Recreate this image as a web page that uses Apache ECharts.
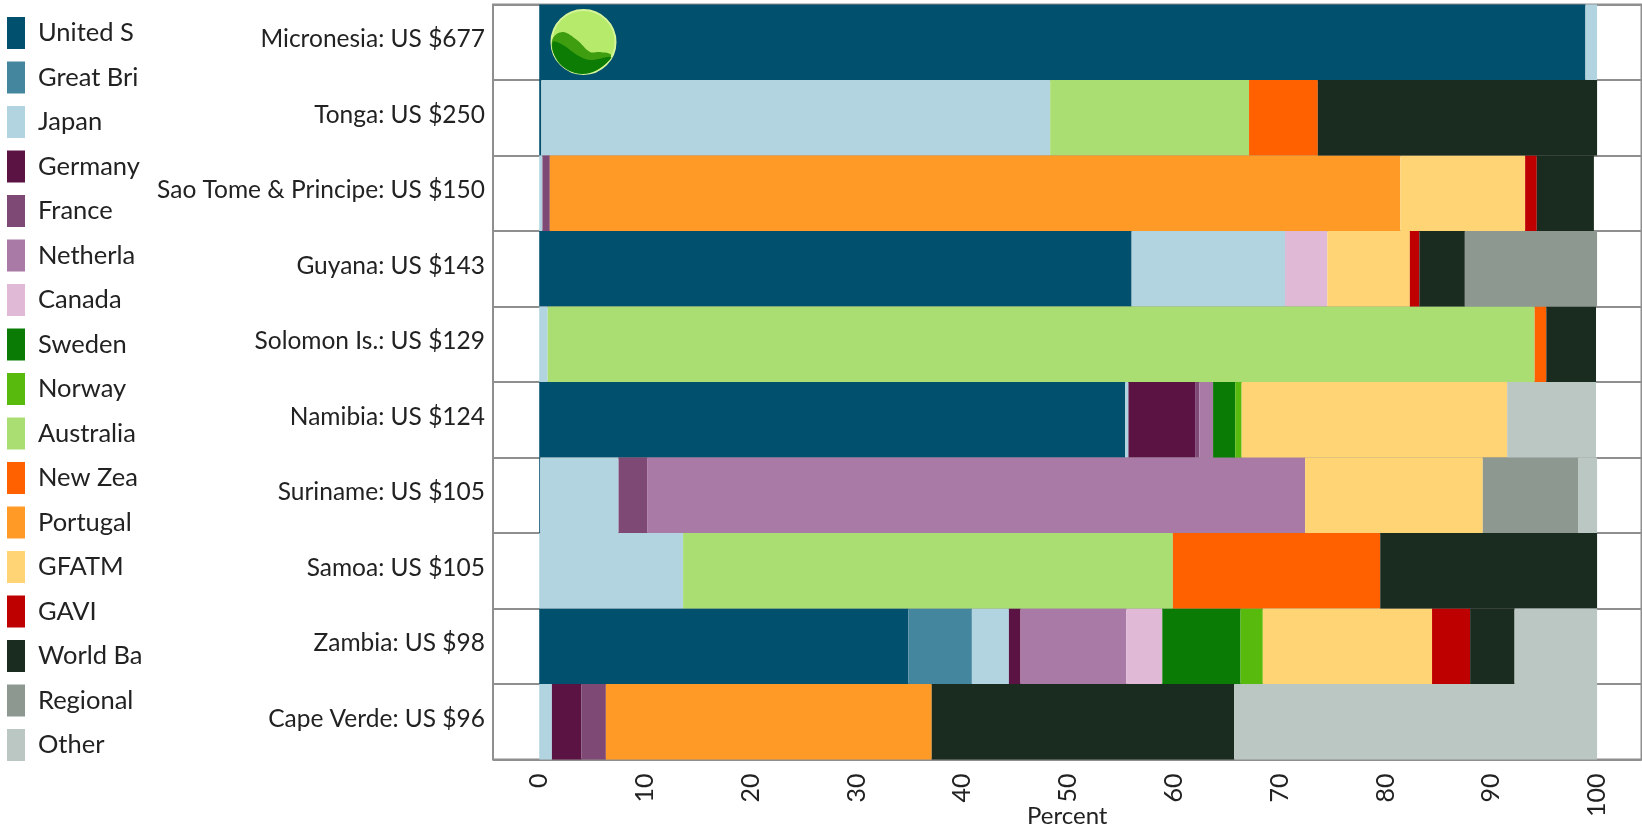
<!DOCTYPE html>
<html>
<head>
<meta charset="utf-8">
<style>html,body{margin:0;padding:0;background:#fff}#c{width:1642px;height:827px}</style>
<script src="https://cdn.jsdelivr.net/npm/echarts@6/dist/echarts.min.js"></script>
</head>
<body>
<div id="c"></div>
<script>
const countries = ['Micronesia: US $677','Tonga: US $250','Sao Tome & Principe: US $150','Guyana: US $143','Solomon Is.: US $129','Namibia: US $124','Suriname: US $105','Samoa: US $105','Zambia: US $98','Cape Verde: US $96'];
const xTicks = [0,10,20,30,40,50,60,70,80,90,100];
const unitedStates = [98.9,0.2,0,56,0,55.4,0.1,0,34.9,0];
const greatBritain = [0,0,0,0,0,0,0,0,6.0,0];
const japan = [1.1,48.1,0.3,14.5,0.8,0.3,7.4,13.6,3.5,1.2];
const germany = [0,0,0,0,0,6.3,0,0,1.1,2.8];
const france = [0,0,0.7,0,0,0.4,2.7,0,0,2.3];
const netherlands = [0,0,0,0,0,1.3,62.2,0,10.0,0];
const canada = [0,0,0,4,0,0,0,0,3.4,0];
const sweden = [0,0,0,0,0,2.1,0,0,7.4,0];
const norway = [0,0,0,0,0,0.6,0,0,2.1,0];
const australia = [0,18.8,0,0,93.3,0,0,46.3,0,0];
const newZealand = [0,6.5,0,0,1.1,0,0,19.6,0,0];
const portugal = [0,0,80.4,0,0,0,0,0,0,30.8];
const gfatm = [0,0,11.8,7.8,0,25.1,16.8,0,16.0,0];
const gavi = [0,0,1.1,0.9,0,0,0,0,3.6,0];
const worldBank = [0,26.4,5.4,4.3,4.7,0,0,20.5,4.2,28.6];
const regional = [0,0,0,12.5,0,0,9,0,0,0];
const other = [0,0,0,0,0,8.4,1.8,0,7.8,34.3];
const donors = [
  ['United States',unitedStates,'#00506e'],['Great Britain',greatBritain,'#45869f'],['Japan',japan,'#b2d3e0'],
  ['Germany',germany,'#5a1343'],['France',france,'#7e4a75'],['Netherlands',netherlands,'#a97aa6'],
  ['Canada',canada,'#e0b9d6'],['Sweden',sweden,'#0a7c05'],['Norway',norway,'#58ba0c'],
  ['Australia',australia,'#abde72'],['New Zealand',newZealand,'#ff6000'],['Portugal',portugal,'#ff9a26'],
  ['GFATM',gfatm,'#ffd474'],['GAVI',gavi,'#bf0000'],['World Bank',worldBank,'#1a2b1f'],
  ['Regional',regional,'#8c9890'],['Other',other,'#bbc7c3']
];
const font = 'Lato';
const chart = echarts.init(document.getElementById('c'));
chart.setOption({
  animation:false,
  backgroundColor:'#fff',
  legend:{
    orient:'vertical',left:7,top:17,itemWidth:18,itemHeight:32,itemGap:12.5,padding:0,
    icon:'rect',selectedMode:false,
    data:donors.map(d=>d[0]==='World Bank'?{name:d[0],textStyle:{width:114}}:{name:d[0]}),
    textStyle:{fontFamily:font,fontSize:25.5,color:'#222',width:103,overflow:'truncate',ellipsis:'',padding:[0,0,0,8]}
  },
  grid:{left:493,top:4.5,right:0.5,bottom:67.5,show:true,borderColor:'#8f8f8f',borderWidth:2,backgroundColor:'#fff',outerBoundsMode:'none'},
  xAxis:{
    type:'value',min:-4.37,max:104.2,
    name:'Percent',nameLocation:'middle',nameGap:45,nameMoveOverlap:false,
    nameTextStyle:{fontFamily:font,fontSize:24,color:'#222'},
    axisLine:{show:false},axisTick:{show:false},splitLine:{show:false},
    axisLabel:{customValues:xTicks,rotate:90,fontFamily:font,fontSize:25,color:'#222',margin:14}
  },
  yAxis:{
    type:'category',inverse:true,data:countries,
    axisLine:{show:false},axisTick:{show:false},
    splitLine:{show:true,lineStyle:{color:'#8f8f8f',width:2}},
    axisLabel:{fontFamily:font,fontSize:24.5,color:'#222',margin:8,verticalAlign:'bottom',lineHeight:6}
  },
  series:donors.map(d=>({name:d[0],type:'bar',stack:'t',barWidth:'100%',data:d[1],itemStyle:{color:d[2]},z:3})),
  graphic:{elements:[
    {type:'circle',z:100,shape:{cx:583.5,cy:42,r:32},style:{fill:'#b5ea6a',stroke:'#d6f59a',lineWidth:2}},
    {type:'polygon',z:101,shape:{smooth:0.35,points:[[553,38],[563,32],[577,40],[590,52],[600,52],[611,55],[603,66],[590,72],[575,72],[562,65],[553,52]]},style:{fill:'#3f9d10'}},
    {type:'polygon',z:102,shape:{smooth:0.35,points:[[553,42],[563,45],[577,55],[590,60],[611,57],[603,66],[590,73],[575,73],[562,66],[554,54]]},style:{fill:'#0c7c05'}}
  ]}
});
</script>
</body>
</html>
